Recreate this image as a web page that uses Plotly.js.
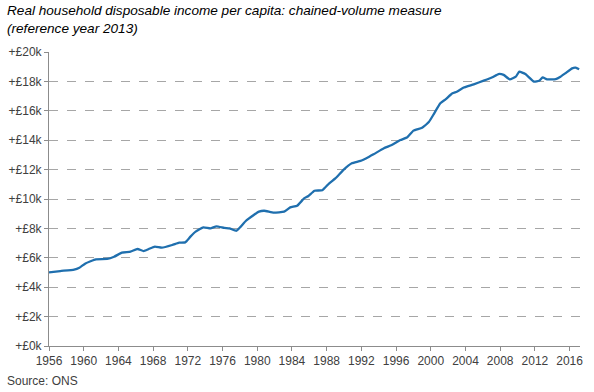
<!DOCTYPE html>
<html>
<head>
<meta charset="utf-8">
<script src="https://cdn.plot.ly/plotly-3.0.1.min.js"></script>
<style>html,body{margin:0;padding:0;background:#fff;}#chart{width:594px;height:392px;}</style>
</head>
<body>
<div id="chart"></div>
<script>
// Year (decimal) and income per capita in £ thousands
const years = [1956.0, 1957.3, 1958.9, 1959.5, 1960.2, 1961.4, 1962.7, 1963.5, 1964.4, 1965.4, 1966.2, 1966.9, 1967.5, 1968.2, 1969.0,
  1970.2, 1971.0, 1971.7, 1972.3, 1972.9, 1973.8, 1974.6, 1975.3, 1976.2, 1976.8, 1977.6, 1978.1, 1978.7, 1979.6, 1980.2, 1980.8,
  1981.9, 1983.1, 1983.8, 1984.6, 1985.4, 1985.9, 1986.6, 1987.5, 1988.3, 1989.0, 1990.0, 1990.9, 1991.9, 1992.9, 1993.4,
  1994.6, 1995.5, 1996.5, 1997.3, 1998.0, 1999.0, 1999.8, 2000.4, 2001.1, 2001.7, 2002.5, 2003.0, 2003.8,
  2004.95, 2006.1, 2007.1, 2007.8, 2008.4, 2009.1, 2009.8, 2010.2, 2010.9, 2011.9, 2012.5, 2012.9, 2013.4, 2014.4, 2014.95,
  2015.5, 2016.3, 2016.7, 2017.1];
const income = [5.01, 5.10, 5.20, 5.33, 5.62, 5.90, 5.92, 6.07, 6.35, 6.42, 6.60, 6.46, 6.60, 6.76, 6.69,
  6.87, 7.03, 7.05, 7.44, 7.78, 8.07, 8.00, 8.14, 8.03, 8.00, 7.84, 8.12, 8.52, 8.91, 9.14, 9.20,
  9.07, 9.14, 9.43, 9.54, 10.04, 10.20, 10.56, 10.60, 11.07, 11.40, 12.02, 12.43, 12.59, 12.88, 13.04,
  13.45, 13.67, 14.01, 14.20, 14.65, 14.85, 15.26, 15.83, 16.51, 16.78, 17.19, 17.30, 17.58,
  17.80, 18.05, 18.28, 18.50, 18.44, 18.14, 18.32, 18.66, 18.50, 17.98, 18.05, 18.27, 18.14, 18.16, 18.32,
  18.55, 18.89, 18.93, 18.82];
const xTicks = [1956, 1960, 1964, 1968, 1972, 1976, 1980, 1984, 1988, 1992, 1996, 2000, 2004, 2008, 2012, 2016];
const titleText = 'Real household disposable income per capita: chained-volume measure<br>(reference year 2013)';
const sourceText = 'Source: ONS';

const trace = {
  x: years, y: income, type: 'scatter', mode: 'lines',
  line: {color: '#1f6fae', width: 2.3, shape: 'spline', smoothing: 0.4},
  hoverinfo: 'skip'
};

const layout = {
  width: 594, height: 392,
  margin: {l: 49, r: 14, t: 52, b: 46},
  paper_bgcolor: '#ffffff', plot_bgcolor: '#ffffff',
  font: {family: 'Liberation Sans, Arial, sans-serif', size: 12, color: '#404040'},
  showlegend: false,
  xaxis: {
    range: [1956, 2017.2], tickvals: xTicks, ticktext: xTicks.map(String),
    showgrid: false, zeroline: false,
    showline: true, linecolor: '#8c8c8c', linewidth: 1,
    ticks: 'outside', ticklen: 4, tickcolor: '#8c8c8c',
    tickfont: {size: 12, color: '#404040'}
  },
  yaxis: {
    range: [0, 20], dtick: 2, tick0: 0,
    tickprefix: '+£', ticksuffix: 'k',
    showgrid: true, gridcolor: '#a6a6a6', griddash: 'dash', gridwidth: 1,
    zeroline: false,
    showline: true, linecolor: '#8c8c8c', linewidth: 1,
    ticks: 'outside', ticklen: 4, tickcolor: '#8c8c8c',
    tickfont: {size: 12, color: '#404040'}
  },
  annotations: [
    {
      text: titleText, xref: 'paper', yref: 'paper', x: -0.083, y: 1.109,
      xanchor: 'left', yanchor: 'middle', align: 'left', showarrow: false,
      font: {family: 'Liberation Sans, Arial, sans-serif', size: 13.6, color: '#000000', style: 'italic'}
    },
    {
      text: sourceText, xref: 'paper', yref: 'paper', x: -0.083, y: -0.119,
      xanchor: 'left', yanchor: 'middle', showarrow: false,
      font: {size: 12, color: '#404040'}
    }
  ]
};

Plotly.newPlot('chart', [trace], layout, {displayModeBar: false, staticPlot: true});
</script>
</body>
</html>
